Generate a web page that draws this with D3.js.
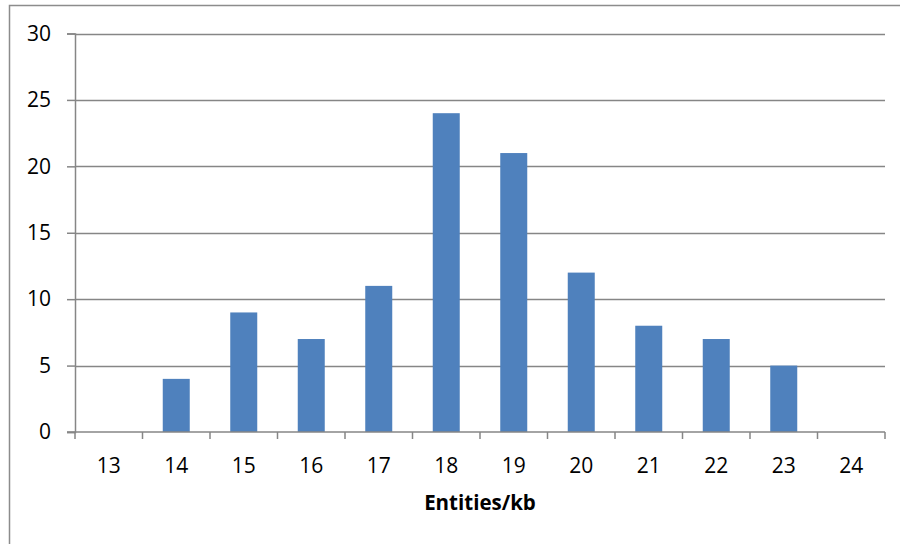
<!DOCTYPE html>
<html>
<head>
<meta charset="utf-8">
<script src="https://cdn.jsdelivr.net/npm/d3@7"></script>
<style>
  html, body { margin: 0; padding: 0; background: #fff; }
  svg { display: block; }
  text { font-family: "Open Sans", "Noto Sans", sans-serif; fill: #000; }
</style>
</head>
<body>
<svg id="chart" width="900" height="544"></svg>
<script>
// Entity density histogram
const categories = ["13", "14", "15", "16", "17", "18", "19", "20", "21", "22", "23", "24"];
const counts = [0, 4, 9, 7, 11, 24, 21, 12, 8, 7, 5, 0];
const yTicks = [0, 5, 10, 15, 20, 25, 30];
const xTitle = "Entities/kb";

const svg = d3.select("#chart");
const W = 900, H = 544;
const plot = { left: 75, right: 885, top: 33.5, bottom: 432 };

// outer chart frame
svg.append("rect")
  .attr("x", 9.5).attr("y", 5.5)
  .attr("width", W + 20).attr("height", H + 20)
  .attr("fill", "none").attr("stroke", "#8c8c8c").attr("stroke-width", 1.5);

const xEdge = d3.scaleBand().domain(categories).range([plot.left, plot.right]);
const y = d3.scaleLinear().domain([0, 30]).range([plot.bottom, plot.top]);
const barW = 27;

// horizontal gridlines
svg.append("g")
  .selectAll("line")
  .data(yTicks.filter(d => d > 0))
  .join("line")
  .attr("x1", plot.left).attr("x2", plot.right)
  .attr("y1", d => Math.round(y(d)) + 0.5).attr("y2", d => Math.round(y(d)) + 0.5)
  .attr("stroke", "#868686").attr("stroke-width", 1.3);

// bars
svg.append("g")
  .selectAll("rect")
  .data(categories.map((c, i) => ({ c, v: counts[i] })).filter(d => d.v > 0))
  .join("rect")
  .attr("x", d => xEdge(d.c) + (xEdge.bandwidth() - barW) / 2)
  .attr("width", barW)
  .attr("y", d => y(d.v))
  .attr("height", d => y(0) - y(d.v))
  .attr("fill", "#4f81bd");

// y axis
const yAxis = d3.axisLeft(y).tickValues(yTicks).tickSize(8).tickPadding(16).tickFormat(d3.format("d"));
const gy = svg.append("g").attr("transform", `translate(${plot.left},0)`).call(yAxis);
gy.select(".domain").attr("stroke", "#868686").attr("stroke-width", 1.5);
gy.selectAll(".tick line").attr("stroke", "#868686").attr("stroke-width", 1.5);
gy.selectAll(".tick text").attr("font-size", 21).attr("font-family", "Open Sans").attr("fill", "#000");

// x axis: ticks at category boundaries, labels at band centres
const gx = svg.append("g").attr("transform", `translate(0,${plot.bottom})`);
gx.append("line")
  .attr("x1", plot.left - 8).attr("x2", plot.right)
  .attr("stroke", "#868686").attr("stroke-width", 1.5);
const edges = categories.map(c => xEdge(c)).concat([plot.right]);
gx.selectAll("line.tk")
  .data(edges)
  .join("line").attr("class", "tk")
  .attr("x1", d => d).attr("x2", d => d)
  .attr("y1", 0).attr("y2", 7)
  .attr("stroke", "#868686").attr("stroke-width", 1.5);
gx.selectAll("text")
  .data(categories)
  .join("text")
  .attr("x", d => xEdge(d) + xEdge.bandwidth() / 2)
  .attr("y", 41)
  .attr("text-anchor", "middle")
  .attr("font-size", 21)
  .text(d => d);

// x axis title
svg.append("text")
  .attr("x", (plot.left + plot.right) / 2)
  .attr("y", 510)
  .attr("text-anchor", "middle")
  .attr("font-size", 20.5)
  .attr("font-weight", "bold")
  .text(xTitle);
</script>
</body>
</html>
